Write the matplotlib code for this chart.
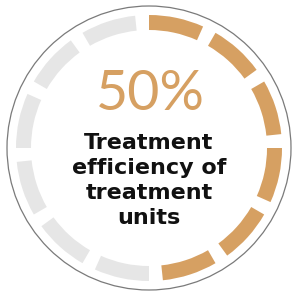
import numpy as np
import matplotlib
matplotlib.use("Agg")
from matplotlib import pyplot as plt
from matplotlib.patches import Wedge, Circle

# data
percent = 50
n_segments = 12
label_value = "50%"
label_lines = ["Treatment", "efficiency of", "treatment", "units"]

orange = '#D6A062'
grey = '#E6E6E6'

fig = plt.figure(figsize=(2.93, 2.94), dpi=100)
ax = fig.add_axes([0, 0, 1, 1])
ax.set_xlim(0, 293)
ax.set_ylim(0, 294)
ax.set_aspect('equal')
ax.axis('off')

cx, cy = 149, 146

# outer thin circle
ax.add_patch(Circle((cx, cy), 142, fill=False, edgecolor='#7a7a7a', linewidth=0.9))

# segmented ring, clockwise from 12 o'clock
n_filled = int(round(percent / 100 * n_segments))
step = 360 / n_segments
seg = 24
for k in range(n_segments):
    t2 = 90 - step * k
    t1 = t2 - seg
    col = orange if k < n_filled else grey
    ax.add_patch(Wedge((cx, cy), 133, t1, t2, width=15, facecolor=col, edgecolor='none'))

# center text
ax.text(cx + 1, 294 - 94, label_value, ha='center', va='center', fontsize=40,
        color=orange, family='Lato', fontweight='normal')
y0 = 294 - 143
for i, line in enumerate(label_lines):
    ax.text(cx, y0 - 25 * i, line, ha='center', va='center', fontsize=16,
            color='#111111', family='DejaVu Sans', fontweight='bold')

plt.savefig('out.png', dpi=100)
